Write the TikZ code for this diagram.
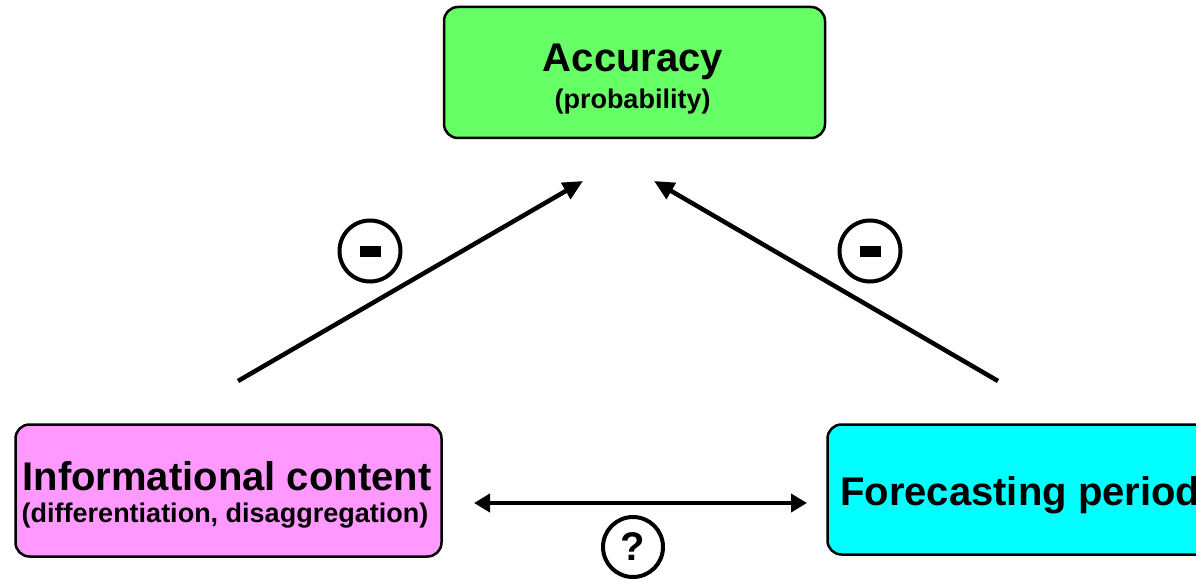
\documentclass[tikz,border=0pt]{standalone}
\usepackage{fontspec}
\setmainfont{Liberation Sans}
\usetikzlibrary{arrows.meta}
\definecolor{accgreen}{HTML}{66FF66}
\definecolor{infopink}{HTML}{FF99FF}
\definecolor{forecyan}{HTML}{00FFFF}
\begin{document}
\begin{tikzpicture}[x=1pt,y=-1pt,
  box/.style={draw=black, line width=2.5pt, rounded corners=14pt, inner sep=0pt},
  big/.style={font=\bfseries\fontsize{40}{44}\selectfont},
  small/.style={font=\bfseries\fontsize{27}{30}\selectfont},
  sign/.style={circle, draw=black, line width=4pt, inner sep=0pt, minimum size=61pt},
  link/.style={line width=4.5pt, -{Triangle[length=20pt,width=18pt]}},
  both/.style={line width=4.5pt, {Triangle[length=16pt,width=18pt]}-{Triangle[length=16pt,width=18pt]}}]
\useasboundingbox (0,0) rectangle (1196,583);
\clip (0,0) rectangle (1196,583);

% boxes
\node[box, fill=accgreen, minimum width=381pt, minimum height=131pt] (acc) at (634.5,72.5) {};
\node[box, fill=infopink, minimum width=426pt, minimum height=132pt] (info) at (228.5,490.5) {};
\node[box, fill=forecyan, minimum width=388pt, minimum height=130pt] (fore) at (1021.5,489.5) {};

% box texts
\node[big, anchor=base] (acc-t) at (633,72) {Accuracy};
\node[small, anchor=base] (acc-s) at (632.5,109) {(probability)};
\node[big, anchor=base] (info-t) at (227,490) {Informational content};
\node[small, anchor=base] (info-s) at (225,522) {(differentiation, disaggregation)};
\node[big, anchor=base west, inner sep=0pt] (fore-t) at (840,505) {Forecasting period};

% connector ends
\coordinate (infoTail) at (238,381);
\coordinate (accL) at (583,181);
\coordinate (foreTail) at (998,381);
\coordinate (accR) at (654,181);
\coordinate (hL) at (474,503);
\coordinate (hR) at (807,503);

\draw[link] (infoTail) -- (accL);
\draw[link] (foreTail) -- (accR);
\draw[both] (hL) -- (hR);

% effect signs
\node[sign] (negL) at (370,251) {\rule{21pt}{11pt}};
\node[sign] (negR) at (870,251) {\rule{21pt}{11pt}};
\node[sign, big, minimum size=60pt] (unk) at (633,547) {?};
\end{tikzpicture}
\end{document}
